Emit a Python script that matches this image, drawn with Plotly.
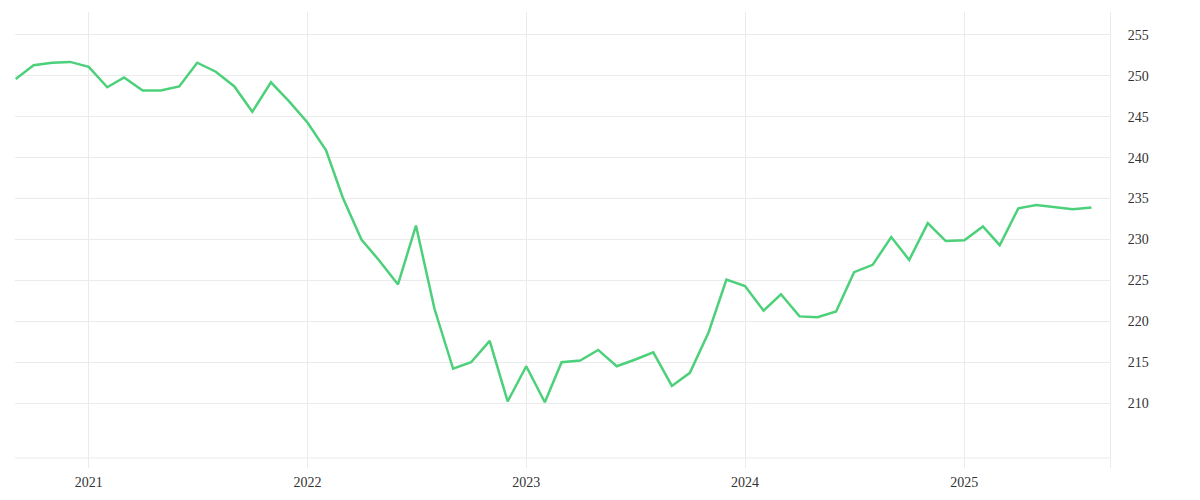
import plotly.graph_objects as go
import pandas as pd

# monthly values, Sep 2020 .. Aug 2025
months = pd.date_range("2020-09-01", "2025-08-01", freq="MS")
values = [
    249.6, 251.3, 251.6, 251.7,
    251.1, 248.6, 249.8, 248.2, 248.2, 248.7, 251.6, 250.5, 248.7, 245.6, 249.2, 246.9,
    244.3, 240.9, 235.1, 230.0, 227.4, 224.5, 231.7, 221.5, 214.2, 215.0, 217.6, 210.2,
    214.5, 210.1, 215.0, 215.2, 216.5, 214.5, 215.3, 216.2, 212.1, 213.7, 218.6, 225.1,
    224.3, 221.3, 223.3, 220.6, 220.5, 221.2, 226.0, 226.9, 230.3, 227.5, 232.0, 229.8,
    229.9, 231.6, 229.3, 233.8, 234.2, 233.9, 233.7, 233.9,
]
year_ticks = ["2021-01-01", "2022-01-01", "2023-01-01", "2024-01-01", "2025-01-01"]
year_labels = ["2021", "2022", "2023", "2024", "2025"]
y_ticks = [210, 215, 220, 225, 230, 235, 240, 245, 250, 255]

grid = "#ebebeb"

fig = go.Figure()
fig.add_trace(go.Scatter(
    x=months, y=values, mode="lines",
    line=dict(color="#4cd07a", width=2.5),
    hoverinfo="x+y", showlegend=False,
))

# page body adds an 8px offset, margins account for it
fig.update_layout(
    width=1200, height=500,
    margin=dict(l=7, r=98, t=4, b=40),
    paper_bgcolor="white", plot_bgcolor="white",
    font=dict(family="Liberation Serif", size=14, color="#333333"),
    xaxis=dict(
        range=["2020-08-31", "2025-09-01"],
        tickvals=year_ticks, ticktext=year_labels,
        showgrid=True, gridcolor=grid, gridwidth=1,
        zeroline=False, showline=False, ticks="",
        ticklabelstandoff=4,
    ),
    yaxis=dict(
        range=[202.07, 257.8], side="right",
        tickvals=y_ticks,
        showgrid=True, gridcolor=grid, gridwidth=1,
        zeroline=False, showline=True, linecolor=grid, linewidth=1,
        ticks="", ticklabelstandoff=14,
    ),
)

# bottom baseline just above the axis edge
fig.add_shape(type="line", xref="paper", yref="paper",
              x0=0, x1=1, y0=0.022, y1=0.022,
              line=dict(color=grid, width=1))

fig.write_html("out.html")
